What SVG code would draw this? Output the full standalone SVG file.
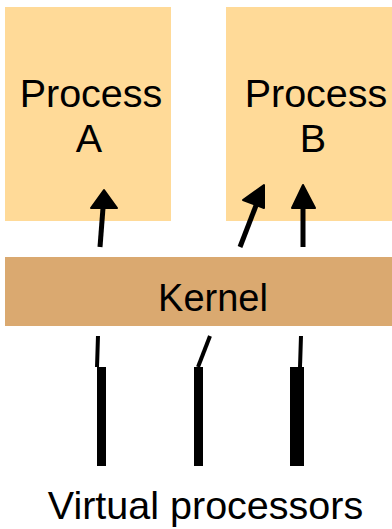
<svg xmlns="http://www.w3.org/2000/svg" width="392" height="529" viewBox="0 0 392 529">
<style>
.proc{fill:#FFDA98}
.kern{fill:#DAA970}
.t{font-family:"Liberation Sans",Arial,sans-serif;fill:#000;text-anchor:middle}
.ln{stroke:#000;fill:none;stroke-linecap:butt}
</style>
<defs>
<marker id="ah" viewBox="0 0 10 10" refX="9" refY="5" markerWidth="5" markerHeight="5" markerUnits="strokeWidth" orient="auto">
<path d="M0,0 L10,5 L0,10 z" fill="#000" stroke="#000" stroke-linejoin="round"/>
</marker>
</defs>
<rect width="392" height="529" fill="#fff"/>
<g id="processA">
<rect class="proc" x="5" y="7" width="166" height="214"/>
<text class="t" x="91" y="107" font-size="39.5">Process</text>
<text class="t" x="89" y="152" font-size="39.5">A</text>
</g>
<g id="processB">
<rect class="proc" x="226" y="7" width="166" height="214"/>
<text class="t" x="316" y="107" font-size="39.5">Process</text>
<text class="t" x="313" y="152" font-size="39.5">B</text>
</g>
<g id="kernel">
<rect class="kern" x="5" y="257" width="387" height="69"/>
<text class="t" x="213" y="311" font-size="38">Kernel</text>
</g>
<g id="virtualProcessors">
<rect x="97" y="367" width="9" height="99" fill="#000"/>
<rect x="194" y="367" width="9" height="99" fill="#000"/>
<rect x="290" y="367" width="14" height="99" fill="#000"/>
<text class="t" x="205.5" y="519" font-size="39.5">Virtual processors</text>
</g>
<g id="connectors">
<path class="ln" stroke-width="5" d="M100,247 L103,208"/>
<path d="M104,190 L117,208 L91,208 z" fill="#000" stroke="#000" stroke-width="2" stroke-linejoin="round"/>
<path class="ln" stroke-width="5" d="M240,247 L257,203"/>
<path d="M264,185 L264,208 L243,200 z" fill="#000" stroke="#000" stroke-width="2" stroke-linejoin="round"/>
<path class="ln" stroke-width="5" d="M303,247 L303,208"/>
<path d="M303,185 L315,208 L292,208 z" fill="#000" stroke="#000" stroke-width="2" stroke-linejoin="round"/>
<path class="ln" stroke-width="4" d="M98,336 L97,367"/>
<path class="ln" stroke-width="4" d="M210,336 L198,367"/>
<path class="ln" stroke-width="4" d="M301,336 L300,367"/>
</g>
</svg>
